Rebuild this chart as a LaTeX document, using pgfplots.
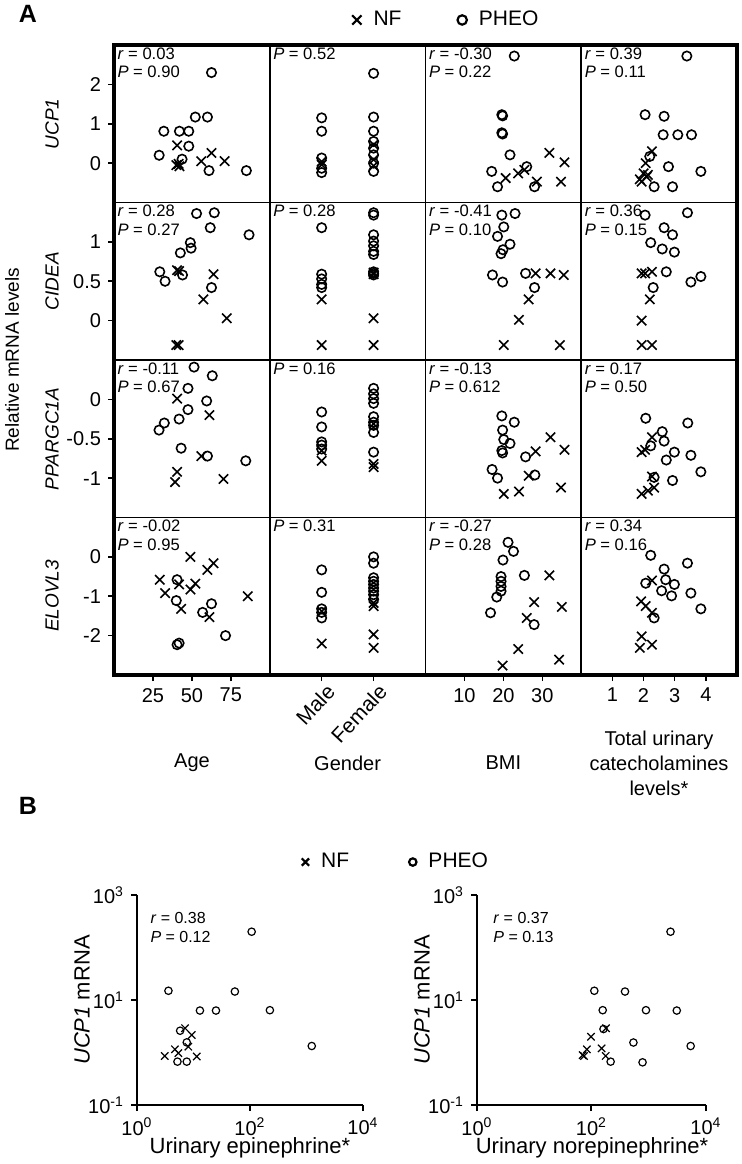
\documentclass[border=0pt]{standalone}
\usepackage{fontspec}
\setmainfont{Liberation Sans}
\usepackage{pgfplots}
\pgfplotsset{compat=1.18}
\pgfplotsset{
 cell/.style={scale only axis, width=77.875pt, height=78.75pt, anchor=north west,
   axis line style={line width=0.8pt}, xtick=\empty, ytick=\empty,
   tick style={line width=0.8pt, black}, tick align=outside, major tick length=3pt,
   tick label style={font=\fontsize{10}{11}\selectfont}, clip=false},
 c1/.style={xmin=0,xmax=100}, c2/.style={xmin=0,xmax=3}, c3/.style={xmin=0,xmax=40}, c4/.style={xmin=0,xmax=5},
 r1/.style={ymin=-1,ymax=3}, r2/.style={ymin=-0.5,ymax=1.5}, r3/.style={ymin=-1.5,ymax=0.5}, r4/.style={ymin=-3,ymax=1},
 nf/.style={only marks, mark=x, mark size=3.3pt, line width=0.8pt, black},
 ph/.style={only marks, mark=o, mark size=2.35pt, line width=0.8pt, black},
 nfb/.style={only marks, mark=x, mark size=2.6pt, line width=0.6pt, black},
 phb/.style={only marks, mark=o, mark size=1.85pt, line width=0.6pt, black},
}
\newcommand{\rp}[2]{\node[anchor=north west, inner sep=0pt, align=left, font=\fontsize{8.3}{9.2}\selectfont] at (rel axis cs:0.02,0.985) {\textit{r} = #1\\\textit{P} = #2};}
\newcommand{\pp}[1]{\node[anchor=north west, inner sep=0pt, font=\fontsize{8.3}{9.2}\selectfont] at (rel axis cs:0.02,0.985) {\textit{P} = #1};}
\begin{document}
\begin{tikzpicture}
\path[use as bounding box] (0,0) rectangle (370.5pt,-582pt);
% ---------------- Row 1 UCP1
\begin{axis}[cell, c1, r1, at={(57pt,-22.5pt)}, ytick={0,1,2}, yticklabels={0,1,2}, ytick pos=left,
  legend style={at={(2.14,1.159)}, anchor=center, draw=none, fill=none, legend columns=2,
  /tikz/every even column/.append style={column sep=26pt}, font=\fontsize{10.5}{12}\selectfont},
  legend image post style={line width=1.1pt}]
\addplot[nf] coordinates {(40.5,0.45)(40,-0.05)(42,-0.08)(41.5,-0.02)(56,0.05)(62.6,0.26)(71,0.05)};
\addlegendentry{\hspace{4pt}NF}
\addplot[ph] coordinates {(62.6,2.3)(52.2,1.17)(60,1.17)(32,0.81)(42,0.81)(48,0.81)(48,0.43)(29,0.2)(43.7,0.1)(61,-0.19)(85,-0.19)};
\addlegendentry{\hspace{4pt}PHEO}
\rp{0.03}{0.90}
\end{axis}
\begin{axis}[cell, c2, r1, at={(134.875pt,-22.5pt)}]
\addplot[nf] coordinates {(1,0.04)(1,-0.04)(2,0.47)(2,0.09)(2,-0.07)};
\addplot[ph] coordinates {(1,1.15)(1,0.81)(1,0.13)(1,-0.13)(1,-0.24)(2,2.28)(2,1.17)(2,0.81)(2,0.55)(2,0.38)(2,0.21)(2,0)(2,-0.21)};
\pp{0.52}
\end{axis}
\begin{axis}[cell, c3, r1, at={(212.75pt,-22.5pt)}]
\addplot[nf] coordinates {(31.8,0.26)(35.7,0.02)(34.8,-0.47)(20.6,-0.38)(23.8,-0.26)(25.4,-0.17)(28.6,-0.47)};
\addplot[ph] coordinates {(22.8,2.72)(19.6,1.23)(19.8,1.2)(19.6,0.77)(19.8,0.74)(21.7,0.21)(26,-0.09)(17,-0.21)(18.5,-0.6)(28,-0.6)};
\rp{-0.30}{0.22}
\end{axis}
\begin{axis}[cell, c4, r1, at={(290.625pt,-22.5pt)}]
\addplot[nf] coordinates {(2.27,0.3)(2.07,0)(2.0,-0.26)(2.14,-0.3)(1.88,-0.41)(1.94,-0.47)(2.1,-0.35)};
\addplot[ph] coordinates {(3.39,2.72)(2.05,1.23)(2.66,1.19)(2.63,0.72)(3.1,0.72)(3.54,0.72)(2.2,0.17)(2.8,-0.09)(3.84,-0.21)(2.34,-0.6)(2.93,-0.6)};
\rp{0.39}{0.11}
\end{axis}
% ---------------- Row 2 CIDEA
\begin{axis}[cell, c1, r2, at={(57pt,-101.25pt)}, ytick={0,0.5,1}, yticklabels={0,0.5,1}, ytick pos=left]
\addplot[nf] coordinates {(40.5,0.64)(41.8,0.63)(63.9,0.59)(57.4,0.27)(72.4,0.03)(40,-0.31)(41.5,-0.31)};
\addplot[ph] coordinates {(53,1.36)(64.4,1.37)(61.8,1.18)(86.7,1.09)(49,0.99)(49.5,0.92)(42.6,0.86)(29.4,0.62)(32.8,0.5)(44,0.58)(62.6,0.42)};
\rp{0.28}{0.27}
\end{axis}
\begin{axis}[cell, c2, r2, at={(134.875pt,-101.25pt)}]
\addplot[nf] coordinates {(1,0.27)(1,-0.31)(2,0.61)(2,0.59)(2,0.03)(2,-0.31)};
\addplot[ph] coordinates {(1,1.18)(1,0.59)(1,0.53)(1,0.46)(1,0.42)(2,1.37)(2,1.34)(2,1.09)(2,1.01)(2,0.95)(2,0.88)(2,0.84)(2,0.62)(2,0.6)(2,0.58)};
\pp{0.28}
\end{axis}
\begin{axis}[cell, c3, r2, at={(212.75pt,-101.25pt)}]
\addplot[nf] coordinates {(28.3,0.6)(32.1,0.6)(35.5,0.58)(26.5,0.27)(24,0.01)(20.1,-0.31)(34.5,-0.31)};
\addplot[ph] coordinates {(19.6,1.34)(23,1.36)(20.1,1.19)(18.5,1.07)(21.7,0.97)(19.9,0.9)(19.4,0.85)(17.2,0.58)(19.8,0.49)(25.7,0.6)(28,0.42)};
\rp{-0.41}{0.10}
\end{axis}
\begin{axis}[cell, c4, r2, at={(290.625pt,-101.25pt)}]
\addplot[nf] coordinates {(1.94,0.6)(2.05,0.6)(2.27,0.62)(2.2,0.27)(1.94,0.0)(1.94,-0.31)(2.27,-0.31)};
\addplot[ph] coordinates {(2.05,1.34)(3.41,1.37)(2.66,1.18)(2.93,1.09)(2.23,0.99)(2.6,0.91)(2.99,0.87)(2.73,0.62)(2.31,0.42)(3.52,0.49)(3.84,0.56)};
\rp{0.36}{0.15}
\end{axis}
% ---------------- Row 3 PPARGC1A
\begin{axis}[cell, c1, r3, at={(57pt,-180pt)}, ytick={-1,-0.5,0}, yticklabels={-1,-0.5,0}, ytick pos=left]
\addplot[nf] coordinates {(40.5,0.01)(61.3,-0.2)(56.1,-0.72)(40.5,-0.92)(39.2,-1.05)(70.3,-1.01)};
\addplot[ph] coordinates {(51.4,0.41)(63.1,0.3)(47.5,0.14)(59.5,-0.02)(47.5,-0.13)(41.8,-0.25)(32.3,-0.3)(28.9,-0.39)(43.1,-0.62)(60,-0.72)(84.6,-0.78)};
\rp{-0.11}{0.67}
\end{axis}
\begin{axis}[cell, c2, r3, at={(134.875pt,-180pt)}]
\addplot[nf] coordinates {(1,-0.65)(1,-0.78)(2,-0.31)(2,-0.82)(2,-0.86)};
\addplot[ph] coordinates {(1,-0.16)(1,-0.35)(1,-0.54)(1,-0.58)(1,-0.63)(2,0.14)(2,0.07)(2,0.01)(2,-0.05)(2,-0.22)(2,-0.29)(2,-0.33)(2,-0.42)(2,-0.67)};
\pp{0.16}
\end{axis}
\begin{axis}[cell, c3, r3, at={(212.75pt,-180pt)}]
\addplot[nf] coordinates {(32.1,-0.48)(35.7,-0.64)(28.3,-0.66)(26.5,-0.97)(20.1,-1.2)(24,-1.17)(34.8,-1.12)};
\addplot[ph] coordinates {(19.6,-0.21)(22.8,-0.29)(19.8,-0.39)(20.1,-0.51)(21.7,-0.56)(19.6,-0.65)(19.8,-0.68)(17.1,-0.89)(18.5,-1.0)(25.7,-0.73)(28.1,-0.96)};
\rp{-0.13}{0.612}
\end{axis}
\begin{axis}[cell, c4, r3, at={(290.625pt,-180pt)}]
\addplot[nf] coordinates {(2.27,-0.48)(1.94,-0.67)(2.05,-0.64)(2.27,-0.98)(1.94,-1.2)(2.14,-1.16)(2.34,-1.12)};
\addplot[ph] coordinates {(2.07,-0.24)(3.42,-0.3)(2.6,-0.41)(2.66,-0.53)(2.23,-0.59)(2.99,-0.67)(2.73,-0.77)(3.52,-0.71)(3.84,-0.92)(2.34,-0.99)(2.93,-1.03)};
\rp{0.17}{0.50}
\end{axis}
% ---------------- Row 4 ELOVL3
\begin{axis}[cell, c1, r4, at={(57pt,-258.75pt)}, ytick={-2,-1,0}, yticklabels={-2,-1,0}, ytick pos=left,
  xtick={25,50,75}, xticklabels={25,50,75}, xtick pos=bottom]
\addplot[nf] coordinates {(49,0.0)(63.9,-0.16)(60,-0.33)(29.4,-0.58)(41.8,-0.7)(52.2,-0.68)(32.8,-0.92)(49.1,-0.83)(43.1,-1.32)(61.3,-1.53)(85.9,-1.0)};
\addplot[ph] coordinates {(40.5,-0.58)(40,-1.11)(56.9,-1.41)(62.6,-1.19)(71.6,-2.0)(40.5,-2.23)(41.8,-2.19)};
\rp{-0.02}{0.95}
\end{axis}
\begin{axis}[cell, c2, r4, at={(134.875pt,-258.75pt)}, xtick={1,2}, xticklabels={Male,Female}, xtick pos=bottom,
  xticklabel style={anchor=east, xshift=7pt, yshift=-1pt, rotate=47, font=\fontsize{10.5}{12}\selectfont}]
\addplot[nf] coordinates {(1,-1.38)(1,-2.2)(2,-1.17)(2,-1.25)(2,-1.97)(2,-2.31)};
\addplot[ph] coordinates {(1,-0.33)(1,-0.9)(1,-1.32)(1,-1.41)(1,-1.55)(2,0.0)(2,-0.16)(2,-0.53)(2,-0.62)(2,-0.7)(2,-0.79)(2,-0.87)(2,-0.96)(2,-1.08)};
\pp{0.31}
\end{axis}
\begin{axis}[cell, c3, r4, at={(212.75pt,-258.75pt)}, xtick={10,20,30}, xticklabels={10,20,30}, xtick pos=bottom]
\addplot[nf] coordinates {(31.8,-0.47)(27.9,-1.15)(35,-1.27)(26,-1.55)(23.8,-2.34)(19.8,-2.76)(34.3,-2.61)};
\addplot[ph] coordinates {(21.2,0.37)(22.6,0.14)(19.9,-0.08)(25.4,-0.47)(19.4,-0.5)(19.4,-0.62)(19.4,-0.75)(19.4,-0.87)(18.3,-1.02)(16.7,-1.42)(27.9,-1.72)};
\rp{-0.27}{0.28}
\end{axis}
\begin{axis}[cell, c4, r4, at={(290.625pt,-258.75pt)}, xtick={1,2,3,4}, xticklabels={1,2,3,4}, xtick pos=bottom]
\addplot[nf] coordinates {(2.27,-0.6)(1.92,-1.13)(2.07,-1.25)(2.27,-1.42)(1.94,-2.02)(1.88,-2.31)(2.27,-2.23)};
\addplot[ph] coordinates {(2.23,0.04)(3.41,-0.16)(2.66,-0.31)(2.07,-0.67)(2.71,-0.58)(2.99,-0.7)(2.58,-0.86)(2.9,-0.99)(3.52,-0.92)(3.84,-1.32)(2.34,-1.55)};
\rp{0.34}{0.16}
\end{axis}
% outer frame
\draw[line width=1.6pt] (57pt,-22.5pt) rectangle (368.5pt,-337.5pt);
% panel A labels
\node[font=\bfseries\fontsize{12.5}{14}\selectfont] at (14pt,-7pt) {A};
\node[rotate=90, font=\fontsize{9.5}{11}\selectfont] at (6pt,-180pt) {Relative mRNA levels};
\node[rotate=90, font=\itshape\fontsize{9.5}{11}\selectfont] at (26pt,-62pt) {UCP1};
\node[rotate=90, font=\itshape\fontsize{9.5}{11}\selectfont] at (26pt,-140.5pt) {CIDEA};
\node[rotate=90, font=\itshape\fontsize{9.5}{11}\selectfont] at (26pt,-219.5pt) {PPARGC1A};
\node[rotate=90, font=\itshape\fontsize{9.5}{11}\selectfont] at (26pt,-298pt) {ELOVL3};
\node[font=\fontsize{10}{11}\selectfont] at (96pt,-381.5pt) {Age};
\node[font=\fontsize{10}{11}\selectfont] at (173.8pt,-381.5pt) {Gender};
\node[font=\fontsize{10}{11}\selectfont] at (251.7pt,-381.5pt) {BMI};
\node[align=center, font=\fontsize{10}{12.5}\selectfont] at (329.5pt,-381.5pt) {Total urinary\\catecholamines\\levels*};
% ---------------- Panel B
\node[font=\bfseries\fontsize{12.5}{14}\selectfont] at (14pt,-403pt) {B};
\begin{axis}[at={(68.5pt,-447.5pt)}, anchor=north west, scale only axis, width=113pt, height=105pt,
  xmode=log, ymode=log, xmin=1, xmax=10000, ymin=0.1, ymax=1000,
  axis x line*=bottom, axis y line*=left, axis line style={line width=1pt, -},
  xtick={1,100,10000}, xticklabels={10\textsuperscript{0},10\textsuperscript{2},10\textsuperscript{4}},
  ytick={0.1,10,1000}, yticklabels={10\textsuperscript{-1},10\textsuperscript{1},10\textsuperscript{3}},
  minor tick num=0, tick align=outside, major tick length=3pt, tick style={line width=1pt, black},
  tick label style={font=\fontsize{10}{11}\selectfont}, clip=false,
  legend style={at={(1.15,1.157)}, anchor=center, draw=none, fill=none, legend columns=2,
  /tikz/every even column/.append style={column sep=28pt}, font=\fontsize{10.5}{12}\selectfont},
  legend image post style={line width=1.1pt}]
\addplot[nfb] coordinates {(7.1,2.9)(9.3,2.15)(8.1,1.29)(4.7,1.15)(3.1,0.86)(5.4,0.97)(11.4,0.84)};
\addlegendentry{\hspace{4pt}NF}
\addplot[phb] coordinates {(107,200)(3.6,15)(54,14.5)(13,6.3)(25,6.3)(225,6.4)(1240,1.33)(5.8,2.6)(7.6,1.56)(5.2,0.67)(7.6,0.67)};
\addlegendentry{\hspace{4pt}PHEO}
\node[anchor=north west, inner sep=0pt, align=left, font=\fontsize{8}{9.5}\selectfont] at (rel axis cs:0.058,0.92) {\textit{r} = 0.38\\\textit{P} = 0.12};
\end{axis}
\begin{axis}[at={(238.5pt,-447.5pt)}, anchor=north west, scale only axis, width=114.5pt, height=105pt,
  xmode=log, ymode=log, xmin=1, xmax=10000, ymin=0.1, ymax=1000,
  axis x line*=bottom, axis y line*=left, axis line style={line width=1pt, -},
  xtick={1,100,10000}, xticklabels={10\textsuperscript{0},10\textsuperscript{2},10\textsuperscript{4}},
  ytick={0.1,10,1000}, yticklabels={10\textsuperscript{-1},10\textsuperscript{1},10\textsuperscript{3}},
  minor tick num=0, tick align=outside, major tick length=3pt, tick style={line width=1pt, black},
  tick label style={font=\fontsize{10}{11}\selectfont}, clip=false]
\addplot[nfb] coordinates {(179,2.9)(98,2.0)(150,1.2)(177,0.86)(83,1.15)(70,0.89)(74,0.86)};
\addplot[phb] coordinates {(2400,200)(112,15)(385,14.5)(157,6.4)(895,6.4)(3090,6.3)(162,2.8)(540,1.55)(5400,1.33)(216,0.67)(780,0.65)};
\node[anchor=north west, inner sep=0pt, align=left, font=\fontsize{8}{9.5}\selectfont] at (rel axis cs:0.07,0.92) {\textit{r} = 0.37\\\textit{P} = 0.13};
\end{axis}
\node[rotate=90, font=\fontsize{11}{12}\selectfont] at (41pt,-500pt) {\textit{UCP1} mRNA};
\node[rotate=90, font=\fontsize{11}{12}\selectfont] at (211pt,-500pt) {\textit{UCP1} mRNA};
\node[font=\fontsize{11}{12}\selectfont] at (125pt,-574pt) {Urinary epinephrine*};
\node[font=\fontsize{11}{12}\selectfont] at (296pt,-574pt) {Urinary norepinephrine*};
\end{tikzpicture}
\end{document}
